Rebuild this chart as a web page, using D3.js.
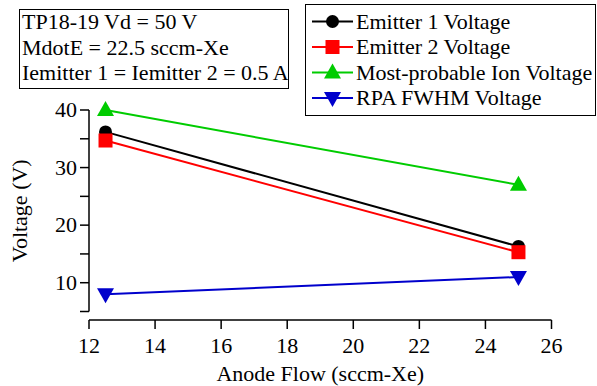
<!DOCTYPE html>
<html>
<head>
<meta charset="utf-8">
<script src="https://cdn.jsdelivr.net/npm/d3@7"></script>
</head>
<body style="margin:0">
<script>
// data
const anodeFlow = [12.5, 25];
const emitter1 = [36.2, 16.3];
const emitter2 = [34.7, 15.3];
const mostProbable = [40, 27];
const rpaFwhm = [8, 11];
const xTicks = [12, 14, 16, 18, 20, 22, 24, 26];
const yTicks = [10, 20, 30, 40];
const yMinor = [5, 15, 25, 35];
const infoLines = ["TP18-19 Vd = 50 V", "MdotE = 22.5 sccm-Xe", "Iemitter 1 = Iemitter 2 = 0.5 A"];

const series = [
  { name: "Emitter 1 Voltage", values: emitter1, color: "#000000", shape: "circle" },
  { name: "Emitter 2 Voltage", values: emitter2, color: "#ff0000", shape: "square" },
  { name: "Most-probable Ion Voltage", values: mostProbable, color: "#00cc00", shape: "up" },
  { name: "RPA FWHM Voltage", values: rpaFwhm, color: "#0000cc", shape: "down" }
];

const svg = d3.select("body").append("svg")
    .attr("width", 597)
    .attr("height", 386);
const fontSize = 22;

const x = d3.scaleLinear().domain([12, 26]).range([89, 551.5]);
const y = d3.scaleLinear().domain([5, 40]).range([311.5, 110]);

function label(sel) {
  sel.attr("font-family", "Times New Roman")
     .attr("font-size", fontSize)
     .attr("style", `font: ${fontSize}px 'Times New Roman', 'Liberation Serif', Tinos, serif`);
}

// marker drawing
function marker(g, shape, color) {
  if (shape === "circle") {
    g.append("circle").attr("r", 6.5).attr("fill", color);
  } else if (shape === "square") {
    g.append("rect").attr("x", -7).attr("y", -7).attr("width", 14).attr("height", 14).attr("fill", color);
  } else if (shape === "up") {
    g.append("path").attr("d", "M0,-9L8.5,6L-8.5,6Z").attr("fill", color);
  } else {
    g.append("path").attr("d", "M0,9L8.5,-6L-8.5,-6Z").attr("fill", color);
  }
}

// axes
const yAxis = svg.append("g").attr("transform", "translate(89,0)");
yAxis.append("line").attr("y1", y(5)).attr("y2", y(40)).attr("stroke", "#000").attr("stroke-width", 1.5);
yAxis.selectAll(".tk").data(yTicks.concat(yMinor)).enter().append("line")
    .attr("x1", -9).attr("x2", 0)
    .attr("y1", d => y(d)).attr("y2", d => y(d))
    .attr("stroke", "#000").attr("stroke-width", 1.5);
yAxis.selectAll(".lb").data(yTicks).enter().append("text")
    .call(label)
    .attr("x", -12).attr("y", d => y(d) + 7)
    .attr("text-anchor", "end")
    .text(d => d);

const xAxisY = 320;
const xAxis = svg.append("g").attr("transform", `translate(0,${xAxisY})`);
xAxis.append("line").attr("x1", x(12)).attr("x2", x(26)).attr("stroke", "#000").attr("stroke-width", 1.5);
xAxis.selectAll(".tk").data(xTicks).enter().append("line")
    .attr("x1", d => x(d)).attr("x2", d => x(d))
    .attr("y1", 0).attr("y2", 9)
    .attr("stroke", "#000").attr("stroke-width", 1.5);
xAxis.selectAll(".lb").data(xTicks).enter().append("text")
    .call(label)
    .attr("x", d => x(d)).attr("y", 33)
    .attr("text-anchor", "middle")
    .text(d => d);

svg.append("text")
    .call(label)
    .attr("x", x(19)).attr("y", 381)
    .attr("text-anchor", "middle")
    .text("Anode Flow (sccm-Xe)");

svg.append("text")
    .call(label)
    .attr("transform", `translate(27,${y(22.5)}) rotate(-90)`)
    .attr("text-anchor", "middle")
    .text("Voltage (V)");

// series
const line = d3.line().x((d, i) => x(anodeFlow[i])).y(d => y(d));
series.forEach(s => {
  svg.append("path")
      .attr("d", line(s.values))
      .attr("fill", "none")
      .attr("stroke", s.color)
      .attr("stroke-width", 2);
  s.values.forEach((v, i) => {
    const g = svg.append("g").attr("transform", `translate(${x(anodeFlow[i])},${y(v)})`);
    marker(g, s.shape, s.color);
  });
});

// info box
svg.append("rect")
    .attr("x", 19.5).attr("y", 9.5).attr("width", 269).attr("height", 79)
    .attr("fill", "#fff").attr("stroke", "#000").attr("stroke-width", 1);
svg.selectAll(".info").data(infoLines).enter().append("text")
    .call(label)
    .attr("x", 22).attr("y", (d, i) => 29 + i * 25.5)
    .text(d => d);

// legend
const legend = svg.append("g");
legend.append("rect")
    .attr("x", 305.5).attr("y", 4.5).attr("width", 290).attr("height", 111)
    .attr("fill", "#fff").attr("stroke", "#000").attr("stroke-width", 1);
series.forEach((s, i) => {
  const cy = 21.5 + i * 25.5;
  legend.append("line")
      .attr("x1", 312).attr("x2", 353)
      .attr("y1", cy).attr("y2", cy)
      .attr("stroke", s.color).attr("stroke-width", 2);
  marker(legend.append("g").attr("transform", `translate(332.5,${cy})`), s.shape, s.color);
  legend.append("text")
      .call(label)
      .attr("x", 356).attr("y", cy + 7)
      .text(s.name);
});
</script>
</body>
</html>
